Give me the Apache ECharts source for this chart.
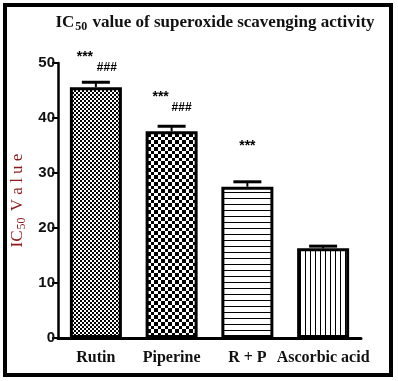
<!DOCTYPE html>
<html><head><meta charset="utf-8">
<script src="https://cdn.jsdelivr.net/npm/echarts@6/dist/echarts.min.js"></script>
<style>html,body{margin:0;padding:0;background:#fff}#c{width:398px;height:381px}</style>
</head><body><div id="c"></div>
<script>
const categories = ['Rutin', 'Piperine', 'R + P', 'Ascorbic acid'];
const values = [45.6, 37.6, 27.5, 16.3];
const errors = [0.9, 0.9, 0.9, 0.4];
const starLabels = ['***', '***', '***', ''];
const hashLabels = ['###', '###', '', ''];
const yTicks = [0, 10, 20, 30, 40, 50];

function makePattern(kind) {
  const c = document.createElement('canvas');
  const ctx = c.getContext('2d');
  if (kind === 'fineCheck') {
    c.width = 4; c.height = 4;
    ctx.fillStyle = '#fff'; ctx.fillRect(0,0,4,4);
    ctx.fillStyle = '#000'; ctx.fillRect(0,0,2,2); ctx.fillRect(2,2,2,2);
  } else if (kind === 'check') {
    c.width = 7; c.height = 7;
    ctx.fillStyle = '#fff'; ctx.fillRect(0,0,7,7);
    ctx.fillStyle = '#000'; ctx.fillRect(0,0,4,4); ctx.fillRect(4,4,3,3);
  } else if (kind === 'hlines') {
    c.width = 6; c.height = 6;
    ctx.fillStyle = '#fff'; ctx.fillRect(0,0,6,6);
    ctx.fillStyle = '#000'; ctx.fillRect(0,0,6,1);
  } else {
    c.width = 5; c.height = 5;
    ctx.fillStyle = '#fff'; ctx.fillRect(0,0,5,5);
    ctx.fillStyle = '#000'; ctx.fillRect(0,0,1,5);
  }
  return { image: c, repeat: 'repeat' };
}
const patterns = [makePattern('fineCheck'), makePattern('check'), makePattern('hlines'), makePattern('vlines')];
// annotation offsets (px) relative to error-bar top: [dx, dy]
const starOff = [[-11, -25], [-11, -29], [0, -36], [0, 0]];
const hashOff = [[11, -15], [10, -19], [0, 0], [0, 0]];

const chart = echarts.init(document.getElementById('c'));
chart.setOption({
  animation: false,
  title: {
    text: 'IC{sub|50} value of superoxide scavenging activity',
    left: 210, top: 8, textAlign: 'center',
    textStyle: {
      fontFamily: 'Liberation Serif', fontWeight: 'bold', fontSize: 17, color: '#111',
      rich: { sub: { fontFamily: 'Liberation Serif', fontWeight: 'bold', fontSize: 12, color: '#111', padding: [8, 1, 0, 1] } }
    }
  },
  graphic: [{
    type: 'rect', shape: { x: 5, y: 5, width: 386, height: 370 },
    style: { fill: 'none', stroke: '#000', lineWidth: 4 }, silent: true
  }],
  grid: { left: 58, right: 37, top: 63, bottom: 43 },
  xAxis: {
    type: 'category', data: categories,
    axisLine: { lineStyle: { color: '#000', width: 3 } },
    axisTick: { alignWithLabel: true, length: 7, lineStyle: { color: '#000', width: 2 } },
    axisLabel: { interval: 0, color: '#111', fontFamily: 'Liberation Serif', fontWeight: 'bold', fontSize: 16, margin: 12 }
  },
  yAxis: {
    type: 'value', min: 0, max: 50, interval: 10,
    name: 'IC{sub|50} V a l u e', nameLocation: 'middle', nameGap: 30, nameRotate: 90,
    nameTextStyle: {
      color: '#8b1a1a', fontFamily: 'Liberation Serif', fontSize: 17,
      rich: { sub: { color: '#8b1a1a', fontFamily: 'Liberation Serif', fontSize: 12, padding: [8, 2, 0, 1] } }
    },
    axisLine: { show: true, lineStyle: { color: '#000', width: 2.5 } },
    axisTick: { show: true, length: 6, lineStyle: { color: '#000', width: 2 } },
    axisLabel: {
      color: '#111', fontFamily: 'Liberation Sans', fontWeight: 'bold', fontSize: 15, margin: 3,
      formatter: v => yTicks.includes(v) ? String(v) : ''
    },
    splitLine: { show: false }
  },
  series: [{
    type: 'bar', barWidth: 52,
    data: values.map((v, i) => ({ value: v, itemStyle: { color: patterns[i] } })),
    itemStyle: { borderColor: '#000', borderWidth: 3 }
  }, {
    type: 'custom',
    data: values.map((v, i) => [i, v, errors[i]]),
    renderItem: function (params, api) {
      const i = api.value(0), v = api.value(1), e = api.value(2);
      const top = api.coord([i, v + e]);
      const base = api.coord([i, v]);
      const cap = 28;
      const children = [
        { type: 'rect', shape: { x: top[0] - 1, y: top[1], width: 2, height: base[1] - top[1] }, style: { fill: '#000' } },
        { type: 'rect', shape: { x: top[0] - cap / 2, y: top[1] - 1.5, width: cap, height: 3 }, style: { fill: '#000' } }
      ];
      if (starLabels[i]) children.push({ type: 'text', style: { text: starLabels[i], x: top[0] + starOff[i][0], y: top[1] + starOff[i][1], align: 'center', verticalAlign: 'middle', fontSize: 14, fontWeight: 'bold', fontFamily: 'Liberation Sans', fill: '#000' } });
      if (hashLabels[i]) children.push({ type: 'text', style: { text: hashLabels[i], x: top[0] + hashOff[i][0], y: top[1] + hashOff[i][1], align: 'center', verticalAlign: 'middle', fontSize: 12, fontWeight: 'bold', fontFamily: 'Liberation Sans', fill: '#000' } });
      return { type: 'group', children: children };
    },
    clip: false, z: 5
  }]
});
</script></body></html>
